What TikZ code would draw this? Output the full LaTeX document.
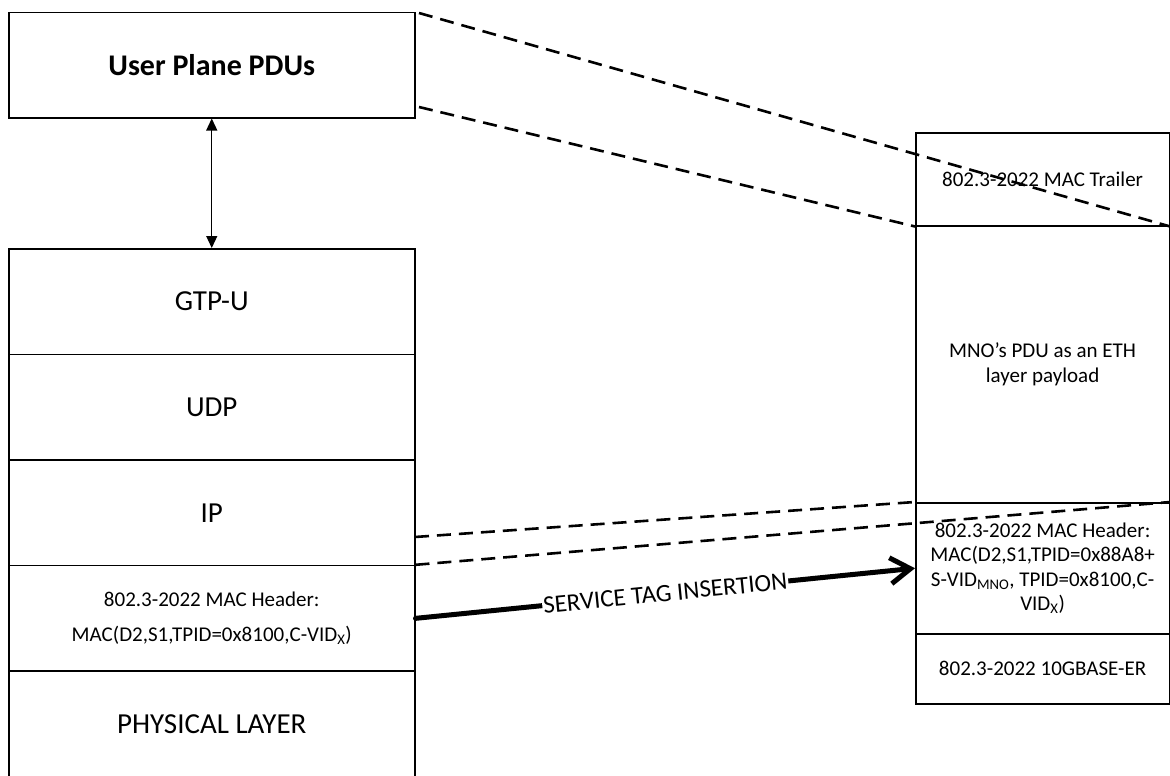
\documentclass[tikz,border=0pt]{standalone}
\usepackage{fontspec}
\setmainfont{Carlito}
\usetikzlibrary{arrows.meta}
\begin{document}
\begin{tikzpicture}[x=1pt,y=-1pt,
  layer/.style={draw, line width=1.5pt, inner sep=0pt, anchor=north west, align=center},
  leftrow/.style={layer, minimum width=406pt, minimum height=105.6pt, font=\fontsize{29}{35}\selectfont},
  rightrow/.style={layer, minimum width=253.7pt, font=\fontsize{21}{24.5}\selectfont},
  dashline/.style={line width=2.6pt, dash pattern=on 14pt off 8pt},
  tagarrow/.style={line width=5pt, line cap=round, -{Straight Barb[length=20pt,width=26pt]}},
  stackarrow/.style={line width=1.3pt, {Triangle[length=12pt,width=11pt]}-{Triangle[length=12pt,width=11pt]}}
]
\useasboundingbox (0,0) rectangle (1170,776);

% left side
\node[layer, minimum width=406pt, minimum height=105pt, font=\bfseries\fontsize{30}{36}\selectfont] (upd) at (8,12) {User Plane PDUs};
\node[leftrow] (gtp) at (8,248) {GTP-U};
\node[leftrow] (udp) at (8,353.6) {UDP};
\node[leftrow] (ip) at (8,459.2) {IP};
\node[leftrow, font=\fontsize{21}{35}\selectfont] (mac) at (8,564.8) {802.3-2022 MAC Header:\\MAC(D2,S1,TPID=0x8100,C-VID\textsubscript{X})};
\node[leftrow] (phy) at (8,670.4) {PHYSICAL LAYER};

% right side
\node[rightrow, minimum height=93pt] (trl) at (915,132) {802.3-2022 MAC Trailer};
\node[rightrow, minimum height=277pt] (pay) at (915,225) {MNO’s PDU as an ETH\\layer payload};
\node[rightrow, minimum height=131pt] (hdr) at (915,502) {802.3-2022 MAC Header:\\MAC(D2,S1,TPID=0x88A8+\\S-VID\textsubscript{MNO}, TPID=0x8100,C-\\VID\textsubscript{X})};
\node[rightrow, minimum height=70pt] (ber) at (915,633) {802.3-2022 10GBASE-ER};

% connectors
\draw[stackarrow] (upd.south) -- (gtp.north);

\coordinate (a1) at (419,13);
\coordinate (a2) at (419,107);
\coordinate (a3) at (415,537);
\draw[dashline] (a1) -- (trl.south east);
\draw[dashline] (a2) -- (trl.south west);
\draw[dashline] (a3) -- (hdr.north west);
\draw[dashline] (mac.north east) -- (hdr.north east);

\draw[tagarrow] (mac.east) -- node[sloped, fill=white, inner sep=1pt, font=\fontsize{25}{30}\selectfont] {SERVICE TAG INSERTION} (hdr.west);
\end{tikzpicture}
\end{document}
